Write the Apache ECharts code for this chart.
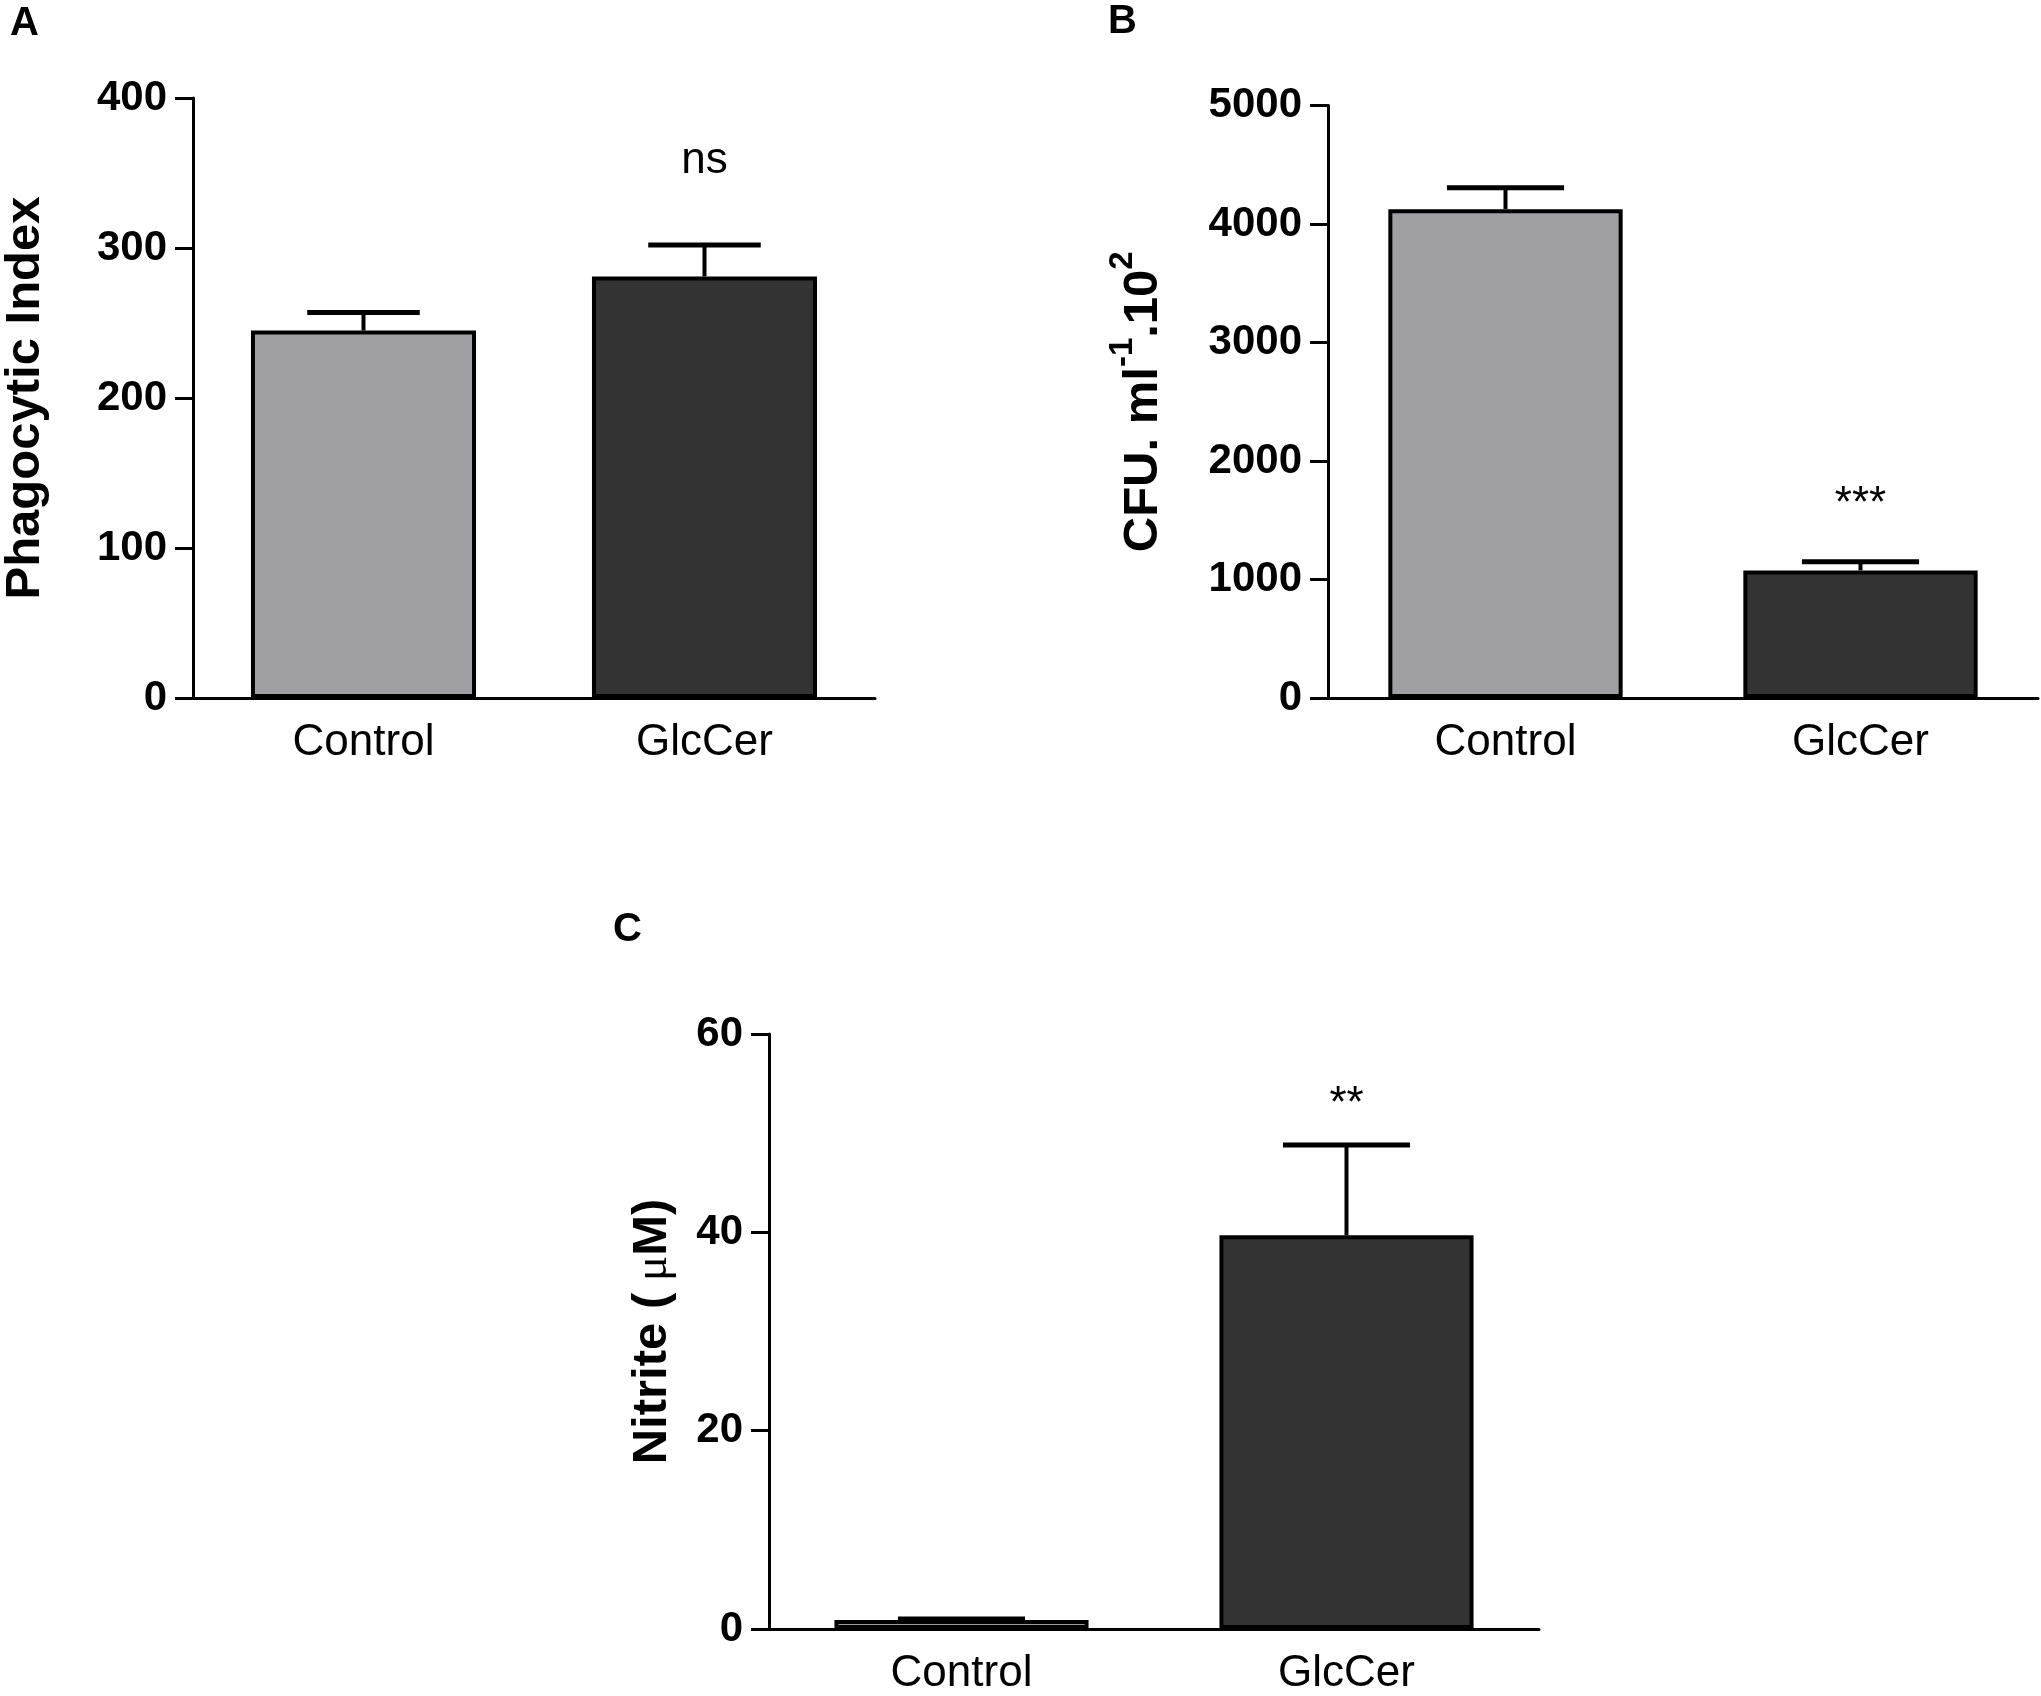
<!DOCTYPE html>
<html>
<head>
<meta charset="utf-8">
<script src="https://cdn.jsdelivr.net/npm/echarts@6/dist/echarts.min.js"></script>
<style>
html,body{margin:0;padding:0;background:#fff}
#main{width:2041px;height:1696px}
</style>
</head>
<body>
<div id="main"></div>
<script>
var categories = ['Control', 'GlcCer'];
var barColors = ['#a0a0a4', '#333333'];

// A - phagocytic index
var phagoMean = [245, 281];
var phagoErr = [12, 21];
var phagoMarks = ['', 'ns'];
var phagoMarkY = [0, 358];

// B - CFU
var cfuMean = [4125, 1077];
var cfuErr = [180, 73];
var cfuMarks = ['', '***'];
var cfuMarkY = [0, 1629];

// C - nitrite
var nitriteMean = [0.9, 39.7];
var nitriteErr = [0.1, 9.1];
var nitriteMarks = ['', '**'];
var nitriteMarkY = [0, 52.9];

var FONT = '"Liberation Sans", Arial, sans-serif';

function barData(means) {
    return means.map(function (v, i) {
        return { value: v, itemStyle: { color: barColors[i] } };
    });
}
function errData(means, errs, markY) {
    return means.map(function (v, i) {
        return [i, v, errs[i], markY[i]];
    });
}
function errRender(marks) {
    return function (params, api) {
        var i = api.value(0);
        var m = api.value(1);
        var top = api.coord([i, m]);
        var cap = api.coord([i, m + api.value(2)]);
        var half = api.size([1, 0])[0] * 0.165;
        var children = [
            { type: 'line', shape: { x1: top[0], y1: top[1], x2: cap[0], y2: cap[1] }, style: { stroke: '#000', lineWidth: 4 } },
            { type: 'line', shape: { x1: cap[0] - half, y1: cap[1], x2: cap[0] + half, y2: cap[1] }, style: { stroke: '#000', lineWidth: 5 } }
        ];
        if (marks[i]) {
            var p = api.coord([i, api.value(3)]);
            children.push({
                type: 'text', x: p[0], y: p[1],
                style: { text: marks[i], fill: '#000', fontSize: 44, fontFamily: FONT, align: 'center', verticalAlign: 'middle' }
            });
        }
        return { type: 'group', children: children };
    };
}

function xAxisOpt(gi) {
    return {
        type: 'category', gridIndex: gi, data: categories,
        axisLine: { lineStyle: { color: '#000', width: 3 } },
        axisTick: { alignWithLabel: true, length: 18, lineStyle: { color: '#000', width: 3 } },
        axisLabel: { color: '#000', fontSize: 44, fontFamily: FONT, margin: 23 }
    };
}
function yAxisOpt(gi, min, max, interval, name, gap) {
    return {
        type: 'value', gridIndex: gi, min: min, max: max, interval: interval,
        name: name, nameLocation: 'middle', nameGap: gap,
        nameTextStyle: {
            color: '#000', fontSize: 49, fontWeight: 'bold', fontFamily: FONT,
            rich: {
                b: { fontSize: 49, fontWeight: 'bold', fontFamily: FONT, color: '#000', lineHeight: 62, verticalAlign: 'bottom' },
                sup: { fontSize: 33, fontWeight: 'bold', fontFamily: FONT, color: '#000', lineHeight: 62, verticalAlign: 'top' },
                mu: { fontSize: 47, fontWeight: 'normal', fontFamily: '"Liberation Serif", serif', color: '#000', lineHeight: 62, verticalAlign: 'bottom' }
            }
        },
        splitLine: { show: false },
        axisLine: { show: true, lineStyle: { color: '#000', width: 3 } },
        axisTick: { show: true, length: 18, lineStyle: { color: '#000', width: 3 } },
        axisLabel: {
            color: '#000', fontSize: 42, fontWeight: 'bold', fontFamily: FONT, margin: 26,
            formatter: function (v) { return String(v); }
        }
    };
}
function barSeries(gi, means) {
    return {
        type: 'bar', xAxisIndex: gi, yAxisIndex: gi, barWidth: '66%',
        itemStyle: { borderColor: '#000', borderWidth: 4 },
        data: barData(means)
    };
}
function errSeries(gi, means, errs, marks, markY) {
    return {
        type: 'custom', xAxisIndex: gi, yAxisIndex: gi, z: 5,
        renderItem: errRender(marks),
        data: errData(means, errs, markY)
    };
}

var letterStyle = { color: '#000', fontSize: 40, fontWeight: 'bold', fontFamily: FONT };

var option = {
    animation: false,
    backgroundColor: '#fff',
    title: [
        { text: 'A', left: 10, top: 4, padding: 0, textStyle: letterStyle },
        { text: 'B', left: 1108, top: 2, padding: 0, textStyle: letterStyle },
        { text: 'C', left: 613, top: 910, padding: 0, textStyle: letterStyle }
    ],
    grid: [
        { left: 193, top: 98, width: 682, height: 600 },
        { left: 1328, top: 105.5, width: 710, height: 592.5 },
        { left: 769, top: 1034, width: 770, height: 599 }
    ],
    xAxis: [xAxisOpt(0), xAxisOpt(1), xAxisOpt(2)],
    yAxis: [
        yAxisOpt(0, 0, 400, 100, 'Phagocytic Index', 143),
        yAxisOpt(1, 0, 5000, 1000, '{b|CFU. ml}{sup|-1}{b|.10}{sup|2}', 160),
        yAxisOpt(2, 0, 60, 20, '{b|Nitrite (}{mu| μ}{b|M)}', 92)
    ],
    series: [
        barSeries(0, phagoMean),
        errSeries(0, phagoMean, phagoErr, phagoMarks, phagoMarkY),
        barSeries(1, cfuMean),
        errSeries(1, cfuMean, cfuErr, cfuMarks, cfuMarkY),
        barSeries(2, nitriteMean),
        errSeries(2, nitriteMean, nitriteErr, nitriteMarks, nitriteMarkY)
    ]
};

var myChart = echarts.init(document.getElementById('main'));
myChart.setOption(option);
</script>
</body>
</html>
